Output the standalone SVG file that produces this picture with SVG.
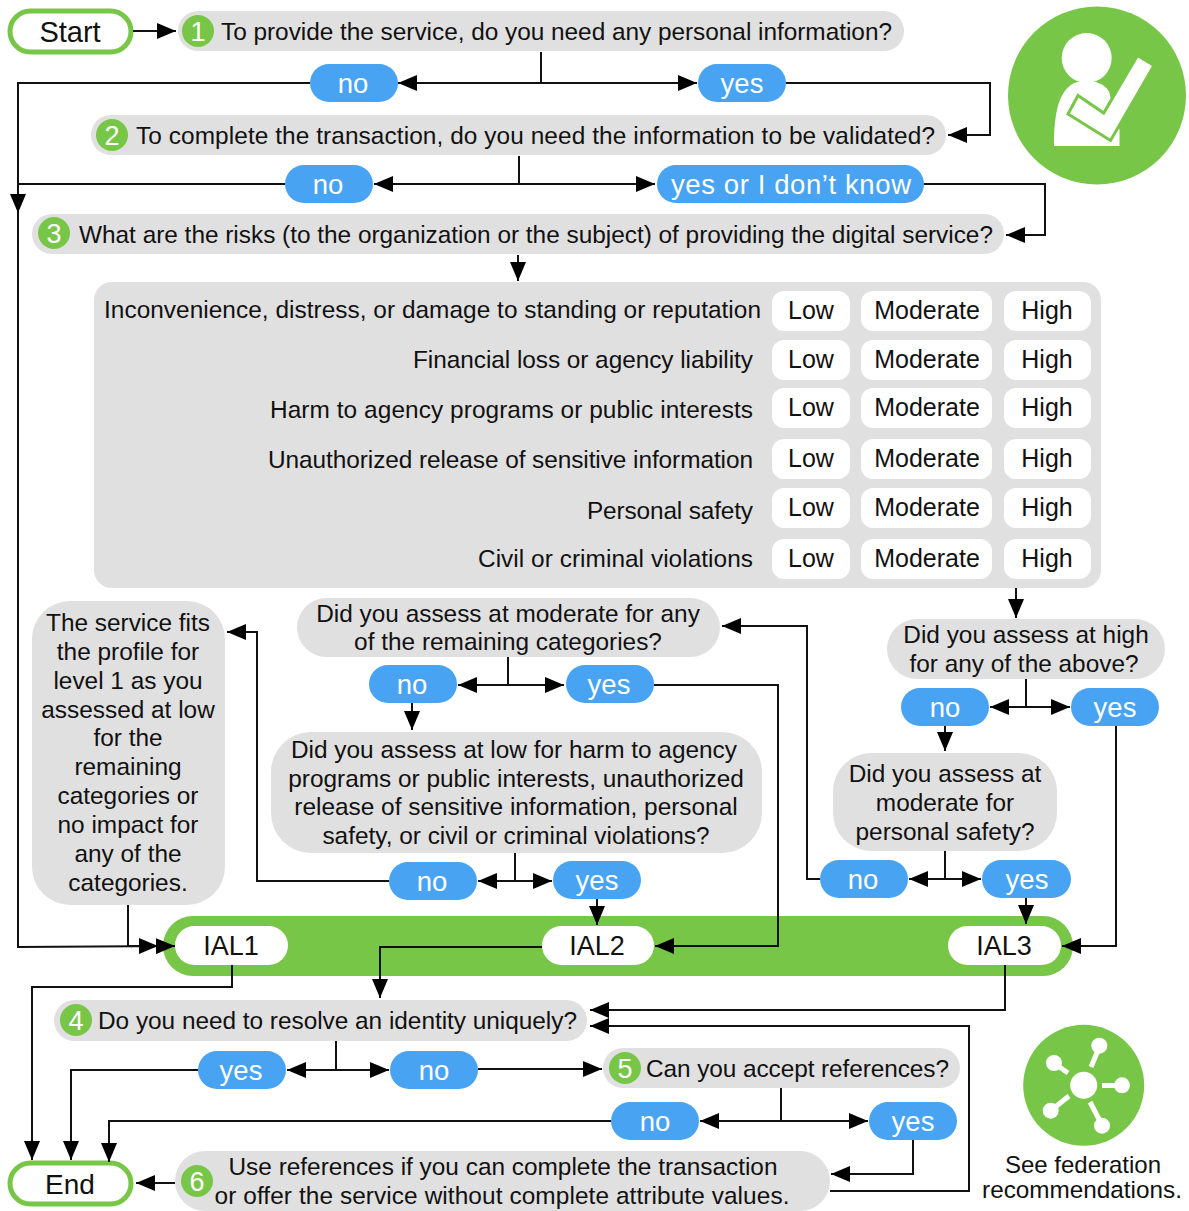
<svg xmlns="http://www.w3.org/2000/svg" width="1189" height="1211" viewBox="0 0 1189 1211">
<style>
text{font-family:"Liberation Sans",Arial,sans-serif;font-size:24.400px;fill:#111;text-anchor:middle}
.l{text-anchor:start}.e{text-anchor:end}
.q{fill:#e0e0e0}.b{fill:#48a3f2}.g{fill:#78c648}.w{fill:#fff}
.t{fill:#fff;font-size:27.500px;transform:translateY(0.500px)}.n{fill:#fff;font-size:27px}
.v{font-size:25px}.k{font-size:27px}
.o{fill:#fff;stroke:#78c648;stroke-width:5}
.c path{fill:none;stroke:#111;stroke-width:2}
</style>
<defs>
<marker id="a" markerUnits="userSpaceOnUse" markerWidth="20" markerHeight="16" refX="19" refY="8" orient="auto"><path d="M0 0L19 8L0 16Z" fill="#000"/></marker>
<marker id="s" markerUnits="userSpaceOnUse" markerWidth="20" markerHeight="16" refX="19" refY="8" orient="auto-start-reverse"><path d="M0 0L19 8L0 16Z" fill="#000"/></marker>
</defs>
<rect width="1189" height="1211" fill="#fff"/>

<g id="icon-person"><circle class="g" cx="1097" cy="95.500" r="89"/><circle class="w" cx="1086.700" cy="58" r="25"/><path class="w" d="M1054 146C1054 112 1059 88 1077 82L1096 82C1105 85 1110 90 1110 96L1119.500 130V146Z"/><path class="w" stroke="#78c648" stroke-width="3" d="M1137.500 55.500L1154 65.500L1110.500 140.500L1068 114L1078 95.500L1103.700 113Z"/></g>
<g id="icon-federation"><circle class="g" cx="1083.700" cy="1085.300" r="60.500"/><circle class="w" cx="1083.700" cy="1085.300" r="13.500"/><g fill="#fff"><circle cx="1099.300" cy="1045.700" r="8"/><circle cx="1054" cy="1063" r="8"/><circle cx="1122" cy="1085.300" r="8"/><circle cx="1050.700" cy="1110.700" r="8"/><circle cx="1102" cy="1125.700" r="8"/></g><path stroke="#fff" stroke-width="5" d="M1099 1048L1091 1067M1058 1066L1068 1073M1122 1085.500H1102M1054 1108L1069 1096M1102 1125L1090 1102"/></g>

<g id="start"><rect class="o" x="10" y="11" width="121" height="41" rx="20.500"/><text x="70" y="42" style="font-size:29px">Start</text></g>
<g id="q1"><rect class="q" x="178" y="11" width="726" height="40" rx="20"/><circle class="g" cx="198" cy="31" r="16"/><text class="n" x="198" y="41">1</text><text class="l" x="221" y="39.500" textLength="671">To provide the service, do you need any personal information?</text></g>
<g id="q1no"><rect class="b" x="310" y="64" width="88" height="38" rx="19"/><text class="t" x="353" y="92">no</text></g>
<g id="q1yes"><rect class="b" x="698" y="64" width="88" height="38" rx="19"/><text class="t" x="742" y="92">yes</text></g>
<g id="q2"><rect class="q" x="91" y="115" width="855" height="40" rx="20"/><circle class="g" cx="112" cy="135" r="16"/><text class="n" x="112" y="145">2</text><text class="l" x="136" y="144" textLength="799">To complete the transaction, do you need the information to be validated?</text></g>
<g id="q2no"><rect class="b" x="285" y="165" width="88" height="38" rx="19"/><text class="t" x="328" y="193">no</text></g>
<g id="q2yes"><rect class="b" x="657" y="165" width="267" height="38" rx="19"/><text class="t" x="791" y="193" textLength="240">yes or I don’t know</text></g>
<g id="q3"><rect class="q" x="32" y="214" width="972" height="40" rx="20"/><circle class="g" cx="54" cy="233" r="16"/><text class="n" x="54" y="243">3</text><text class="l" x="79" y="242.500" textLength="914">What are the risks (to the organization or the subject) of providing the digital service?</text></g>

<g id="risks"><rect class="q" x="94" y="282" width="1007" height="306" rx="18"/>
<text class="e" x="761" y="318" textLength="657">Inconvenience, distress, or damage to standing or reputation</text>
<text class="e" x="753" y="368" textLength="340">Financial loss or agency liability</text>
<text class="e" x="753" y="418" textLength="483">Harm to agency programs or public interests</text>
<text class="e" x="753" y="468" textLength="485">Unauthorized release of sensitive information</text>
<text class="e" x="753" y="519" textLength="166">Personal safety</text>
<text class="e" x="753" y="567" textLength="275">Civil or criminal violations</text>
<g class="w">
<rect x="772" y="291" width="78" height="40" rx="12"/><rect x="861" y="291" width="131" height="40" rx="12"/><rect x="1004" y="291" width="87" height="40" rx="12"/>
<rect x="772" y="340" width="78" height="40" rx="12"/><rect x="861" y="340" width="131" height="40" rx="12"/><rect x="1004" y="340" width="87" height="40" rx="12"/>
<rect x="772" y="388" width="78" height="40" rx="12"/><rect x="861" y="388" width="131" height="40" rx="12"/><rect x="1004" y="388" width="87" height="40" rx="12"/>
<rect x="772" y="439" width="78" height="40" rx="12"/><rect x="861" y="439" width="131" height="40" rx="12"/><rect x="1004" y="439" width="87" height="40" rx="12"/>
<rect x="772" y="488" width="78" height="40" rx="12"/><rect x="861" y="488" width="131" height="40" rx="12"/><rect x="1004" y="488" width="87" height="40" rx="12"/>
<rect x="772" y="539" width="78" height="40" rx="12"/><rect x="861" y="539" width="131" height="40" rx="12"/><rect x="1004" y="539" width="87" height="40" rx="12"/>
</g>
<text class="v" x="811" y="319">Low</text><text class="v" x="927" y="319">Moderate</text><text class="v" x="1047" y="319">High</text>
<text class="v" x="811" y="368">Low</text><text class="v" x="927" y="368">Moderate</text><text class="v" x="1047" y="368">High</text>
<text class="v" x="811" y="416">Low</text><text class="v" x="927" y="416">Moderate</text><text class="v" x="1047" y="416">High</text>
<text class="v" x="811" y="467">Low</text><text class="v" x="927" y="467">Moderate</text><text class="v" x="1047" y="467">High</text>
<text class="v" x="811" y="516">Low</text><text class="v" x="927" y="516">Moderate</text><text class="v" x="1047" y="516">High</text>
<text class="v" x="811" y="567">Low</text><text class="v" x="927" y="567">Moderate</text><text class="v" x="1047" y="567">High</text>
</g>

<g id="profile"><rect class="q" x="32" y="601" width="193" height="304" rx="38"/>
<text x="128" y="631">The service fits</text><text x="128" y="660">the profile for</text><text x="128" y="689">level 1 as you</text><text x="128" y="718">assessed at low</text><text x="128" y="746">for the</text><text x="128" y="775">remaining</text><text x="128" y="804">categories or</text><text x="128" y="833">no impact for</text><text x="128" y="862">any of the</text><text x="128" y="891">categories.</text></g>
<g id="qmod"><rect class="q" x="297" y="598" width="423" height="59" rx="29.500"/><text x="508" y="622">Did you assess at moderate for any</text><text x="508" y="650">of the remaining categories?</text></g>
<g id="qmodno"><rect class="b" x="369" y="665" width="88" height="38" rx="19"/><text class="t" x="412" y="693">no</text></g>
<g id="qmodyes"><rect class="b" x="566" y="665" width="88" height="38" rx="19"/><text class="t" x="609" y="693">yes</text></g>
<g id="qlow"><rect class="q" x="271" y="732" width="491" height="121" rx="40"/><text x="514" y="758">Did you assess at low for harm to agency</text><text x="516" y="787">programs or public interests, unauthorized</text><text x="516" y="815">release of sensitive information, personal</text><text x="516" y="844">safety, or civil or criminal violations?</text></g>
<g id="qlowno"><rect class="b" x="389" y="862" width="88" height="38" rx="19"/><text class="t" x="432" y="890">no</text></g>
<g id="qlowyes"><rect class="b" x="553" y="861" width="88" height="38" rx="19"/><text class="t" x="597" y="889">yes</text></g>
<g id="qhigh"><rect class="q" x="887" y="619" width="278" height="60" rx="30"/><text x="1026" y="643">Did you assess at high</text><text x="1024" y="672">for any of the above?</text></g>
<g id="qhighno"><rect class="b" x="901" y="688" width="88" height="38" rx="19"/><text class="t" x="945" y="716">no</text></g>
<g id="qhighyes"><rect class="b" x="1071" y="688" width="88" height="38" rx="19"/><text class="t" x="1115" y="716">yes</text></g>
<g id="qsafety"><rect class="q" x="833" y="753" width="224" height="98" rx="38"/><text x="945" y="782">Did you assess at</text><text x="945" y="811">moderate for</text><text x="945" y="840">personal safety?</text></g>
<g id="qsafeno"><rect class="b" x="820" y="860" width="88" height="38" rx="19"/><text class="t" x="863" y="888">no</text></g>
<g id="qsafeyes"><rect class="b" x="982" y="860" width="89" height="38" rx="19"/><text class="t" x="1027" y="888">yes</text></g>

<g id="ial"><rect class="g" x="163" y="916" width="910" height="60" rx="30"/>
<rect class="w" x="175" y="926" width="113" height="39" rx="19.500"/><text class="k" x="231" y="955">IAL1</text>
<rect class="w" x="542" y="926" width="112" height="39" rx="19.500"/><text class="k" x="597" y="955">IAL2</text>
<rect class="w" x="948" y="926" width="113" height="39" rx="19.500"/><text class="k" x="1004" y="955">IAL3</text></g>

<g id="q4"><rect class="q" x="54" y="1000" width="533" height="41" rx="20.500"/><circle class="g" cx="76" cy="1020" r="16"/><text class="n" x="76" y="1030">4</text><text class="l" x="98" y="1029" textLength="479">Do you need to resolve an identity uniquely?</text></g>
<g id="q4yes"><rect class="b" x="198" y="1051" width="88" height="38" rx="19"/><text class="t" x="241" y="1079">yes</text></g>
<g id="q4no"><rect class="b" x="390" y="1051" width="88" height="38" rx="19"/><text class="t" x="434" y="1079">no</text></g>
<g id="q5"><rect class="q" x="603" y="1048" width="357" height="40" rx="20"/><circle class="g" cx="625" cy="1068" r="16"/><text class="n" x="625" y="1078">5</text><text class="l" x="646" y="1077" textLength="303">Can you accept references?</text></g>
<g id="q5no"><rect class="b" x="611" y="1102" width="88" height="38" rx="19"/><text class="t" x="655" y="1130">no</text></g>
<g id="q5yes"><rect class="b" x="869" y="1102" width="88" height="38" rx="19"/><text class="t" x="913" y="1130">yes</text></g>
<g id="q6"><rect class="q" x="175" y="1151" width="655" height="60" rx="30"/><circle class="g" cx="197" cy="1181" r="16"/><text class="n" x="197" y="1191">6</text><text x="503" y="1175" textLength="549">Use references if you can complete the transaction</text><text x="502" y="1204" textLength="575">or offer the service without complete attribute values.</text></g>
<g id="end"><rect class="o" x="10" y="1163" width="121" height="41" rx="20.500"/><text x="70" y="1194" style="font-size:28px">End</text></g>
<g id="fedtext"><text x="1083" y="1173" style="font-size:24px">See federation</text><text x="1082" y="1198" style="font-size:24.300px">recommendations.</text></g>

<g id="connectors" class="c">
<path d="M133 31H176" marker-end="url(#a)"/>
<path d="M541 52V83"/><path d="M398 83H697" marker-start="url(#s)" marker-end="url(#a)"/>
<path d="M310 83H18V947L175 946" marker-end="url(#a)"/>
<path d="M18 190V213" marker-end="url(#a)"/>
<path d="M786 83H990V135H948" marker-end="url(#a)"/>
<path d="M519 156V184"/><path d="M374 184H655" marker-start="url(#s)" marker-end="url(#a)"/>
<path d="M285 184H18"/>
<path d="M924 184H1045V235H1006" marker-end="url(#a)"/>
<path d="M518 255V281" marker-end="url(#a)"/>
<path d="M1016 588V618" marker-end="url(#a)"/>
<path d="M128 905V946H158" marker-end="url(#a)"/>
<path d="M508 657V685"/><path d="M458 685H564" marker-start="url(#s)" marker-end="url(#a)"/>
<path d="M412 703V730" marker-end="url(#a)"/>
<path d="M515 853V881"/><path d="M478 881H552" marker-start="url(#s)" marker-end="url(#a)"/>
<path d="M389 881H257V632H227" marker-end="url(#a)"/>
<path d="M597 899V925" marker-end="url(#a)"/>
<path d="M654 685H778V946H655" marker-end="url(#a)"/>
<path d="M1026 679V707"/><path d="M990 707H1070" marker-start="url(#s)" marker-end="url(#a)"/>
<path d="M945 726V751" marker-end="url(#a)"/>
<path d="M945 851V879"/><path d="M909 879H981" marker-start="url(#s)" marker-end="url(#a)"/>
<path d="M820 879H807V626H722" marker-end="url(#a)"/>
<path d="M1026 898V924" marker-end="url(#a)"/>
<path d="M1116 726V946H1062" marker-end="url(#a)"/>
<path d="M232 965V987H32V1160" marker-end="url(#a)"/>
<path d="M542 947H380V998" marker-end="url(#a)"/>
<path d="M1005 965V1010H590" marker-end="url(#a)"/>
<path d="M336 1041V1070"/><path d="M287 1070H389" marker-start="url(#s)" marker-end="url(#a)"/>
<path d="M198 1070H71V1160" marker-end="url(#a)"/>
<path d="M478 1069H602" marker-end="url(#a)"/>
<path d="M781 1088V1121"/><path d="M700 1121H868" marker-start="url(#s)" marker-end="url(#a)"/>
<path d="M611 1121H109V1162" marker-end="url(#a)"/>
<path d="M913 1140V1174H831" marker-end="url(#a)"/>
<path d="M175 1183H136" marker-end="url(#a)"/>
<path d="M830 1191H969V1026H590" marker-end="url(#a)"/>
</g>
</svg>
